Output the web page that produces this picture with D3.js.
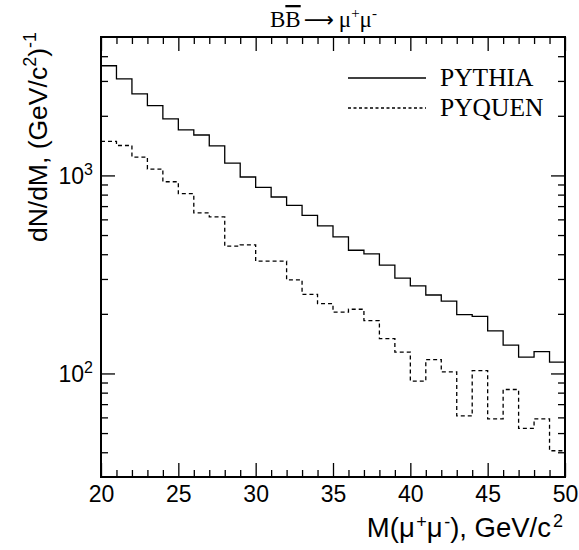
<!DOCTYPE html>
<html>
<head>
<meta charset="utf-8">
<script src="https://cdn.jsdelivr.net/npm/d3@7"></script>
<style>
  html, body { margin: 0; padding: 0; background: #fff; }
  svg { display: block; }
</style>
</head>
<body>
<svg id="chart" width="579" height="550"></svg>
<script>
// ---- data ----
const massBins = [20, 21, 22, 23, 24, 25, 26, 27, 28, 29, 30, 31, 32, 33, 34,
                  35, 36, 37, 38, 39, 40, 41, 42, 43, 44, 45, 46, 47, 48, 49];
const pythia = [3580, 3070, 2580, 2250, 1930, 1700, 1600, 1410, 1155, 982,
                870, 778, 706, 629, 556, 489, 419, 402, 352, 303,
                277, 249, 232, 198, 194, 164, 139, 121, 129, 114];
const pyquen = [1484, 1416, 1238, 1077, 929, 809, 647, 617, 439, 446,
                369, 369, 297, 251, 225, 204, 211, 185, 150, 128,
                91.4, 117.5, 101.8, 61, 103.4, 59, 83, 52.8, 59, 40.7];
const seriesNames = ["PYTHIA", "PYQUEN"];
const xMajorTicks = [20, 25, 30, 35, 40, 45, 50];
const xMinorTicks = [21, 22, 23, 24, 26, 27, 28, 29, 31, 32, 33, 34, 36, 37, 38, 39,
                     41, 42, 43, 44, 46, 47, 48, 49];
const yMajorTicks = [100, 1000];
const yMinorTicks = [40, 50, 60, 70, 80, 90, 200, 300, 400, 500, 600, 700, 800, 900,
                     2000, 3000, 4000];
const xDomain = [20, 50];
const yDomain = [30, 5000];

// ---- layout ----
const L = 101, R = 565, T = 37, B = 477;
const svg = d3.select("#chart");
const x = d3.scaleLinear().domain(xDomain).range([L, R]);
const y = d3.scaleLog().domain(yDomain).range([B, T]);

const sans = "'Liberation Sans', Arial, sans-serif";
const serif = "'Liberation Serif', 'Times New Roman', serif";

function styleAxis(g) {
  g.select(".domain").remove();
  g.selectAll(".tick line").attr("stroke", "#000").attr("stroke-width", 1.3);
}

// bottom axis
svg.append("g").attr("transform", `translate(0,${B})`)
  .call(d3.axisBottom(x).tickValues(xMajorTicks).tickSize(-14).tickPadding(9).tickFormat(d3.format("d")))
  .call(styleAxis)
  .call(g => g.selectAll(".tick text").attr("font-family", sans).attr("font-size", 23).attr("fill", "#000"));
svg.append("g").attr("transform", `translate(0,${B})`)
  .call(d3.axisBottom(x).tickValues(xMinorTicks).tickSize(-7).tickFormat(""))
  .call(styleAxis);
// top axis
svg.append("g").attr("transform", `translate(0,${T})`)
  .call(d3.axisTop(x).tickValues(xMajorTicks).tickSize(-14).tickFormat(""))
  .call(styleAxis);
svg.append("g").attr("transform", `translate(0,${T})`)
  .call(d3.axisTop(x).tickValues(xMinorTicks).tickSize(-7).tickFormat(""))
  .call(styleAxis);
// left axis
const leftG = svg.append("g").attr("transform", `translate(${L},0)`)
  .call(d3.axisLeft(y).tickValues(yMajorTicks).tickSize(-14).tickPadding(8).tickFormat(() => ""))
  .call(styleAxis);
leftG.selectAll(".tick text").each(function(d) {
  const t = d3.select(this).attr("font-family", sans).attr("font-size", 23).attr("fill", "#000").attr("dy", "0.36em");
  t.append("tspan").text("10");
  t.append("tspan").attr("font-size", 16).attr("dy", "-0.6em").text(String(Math.round(Math.log10(d))));
});
svg.append("g").attr("transform", `translate(${L},0)`)
  .call(d3.axisLeft(y).tickValues(yMinorTicks).tickSize(-7).tickFormat(""))
  .call(styleAxis);
// right axis
svg.append("g").attr("transform", `translate(${R},0)`)
  .call(d3.axisRight(y).tickValues(yMajorTicks).tickSize(-14).tickFormat(""))
  .call(styleAxis);
svg.append("g").attr("transform", `translate(${R},0)`)
  .call(d3.axisRight(y).tickValues(yMinorTicks).tickSize(-7).tickFormat(""))
  .call(styleAxis);

// histograms
const binW = massBins[1] - massBins[0];
function stepPoints(vals) {
  const pts = massBins.map((m, i) => [m, vals[i]]);
  pts.push([massBins[massBins.length - 1] + binW, vals[vals.length - 1]]);
  return pts;
}
const line = d3.line().x(d => x(d[0])).y(d => y(d[1])).curve(d3.curveStepAfter);
svg.append("path").attr("d", line(stepPoints(pythia)))
  .attr("fill", "none").attr("stroke", "#000").attr("stroke-width", 1.3);
svg.append("path").attr("d", line(stepPoints(pyquen)))
  .attr("fill", "none").attr("stroke", "#000").attr("stroke-width", 1.3)
  .attr("stroke-dasharray", "4,3");

// frame
svg.append("rect").attr("x", L).attr("y", T).attr("width", R - L).attr("height", B - T)
  .attr("fill", "none").attr("stroke", "#000").attr("stroke-width", 2);

// legend
const legend = [
  { name: seriesNames[0], dash: null, y: 78 },
  { name: seriesNames[1], dash: "3,2.5", y: 108 }
];
legend.forEach(d => {
  svg.append("line").attr("x1", 348).attr("x2", 426).attr("y1", d.y).attr("y2", d.y)
    .attr("stroke", "#000").attr("stroke-width", 1.3).attr("stroke-dasharray", d.dash);
  svg.append("text").attr("x", 440).attr("y", d.y + 8)
    .attr("font-family", serif).attr("font-size", 25.5).attr("fill", "#000").text(d.name);
});

// title
const title = svg.append("text").attr("x", 270).attr("y", 27)
  .attr("font-family", serif).attr("font-size", 23).attr("fill", "#000");
title.append("tspan").text("B");
title.append("tspan").style("text-decoration", "overline").text("B");
title.append("tspan").attr("dx", 3).attr("font-family", "'DejaVu Sans', sans-serif").attr("font-size", 21).text("\u27f6");
title.append("tspan").attr("dx", 5).text("\u03bc");
title.append("tspan").attr("font-size", 15).attr("dy", "-0.6em").text("+");
title.append("tspan").attr("dy", "0.39em").text("\u03bc");
title.append("tspan").attr("font-size", 15).attr("dy", "-0.6em").text("-");

// x title
const xt = svg.append("text").attr("x", 563).attr("y", 537).attr("text-anchor", "end")
  .attr("font-family", sans).attr("font-size", 27.5).attr("fill", "#000");
xt.append("tspan").text("M(\u03bc");
xt.append("tspan").attr("font-size", 18).attr("dy", "-0.5em").attr("dx", 1.5).text("+");
xt.append("tspan").attr("dy", "0.327em").text("\u03bc");
xt.append("tspan").attr("font-size", 18).attr("dy", "-0.5em").attr("dx", 1.5).text("-");
xt.append("tspan").attr("dy", "0.327em").text("), GeV/c");
xt.append("tspan").attr("font-size", 18).attr("dy", "-0.55em").attr("dx", 2).text("2");

// y title
const yt = svg.append("text").attr("transform", "translate(47,32) rotate(-90)").attr("text-anchor", "end")
  .attr("font-family", sans).attr("font-size", 26.5).attr("fill", "#000");
yt.append("tspan").text("dN/dM, (GeV/c");
yt.append("tspan").attr("font-size", 18).attr("dy", "-0.6em").text("2");
yt.append("tspan").attr("dy", "0.4em").text(")");
yt.append("tspan").attr("font-size", 18).attr("dy", "-0.6em").text("-1");
</script>
</body>
</html>
